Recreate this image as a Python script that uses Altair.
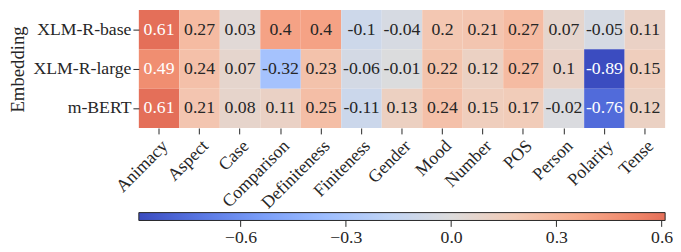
import altair as alt
import pandas as pd
import numpy as np

features = ["Animacy", "Aspect", "Case", "Comparison", "Definiteness", "Finiteness",
            "Gender", "Mood", "Number", "POS", "Person", "Polarity", "Tense"]
embeddings = ["XLM-R-base", "XLM-R-large", "m-BERT"]
xlmr_base = [0.61, 0.27, 0.03, 0.4, 0.4, -0.1, -0.04, 0.2, 0.21, 0.27, 0.07, -0.05, 0.11]
xlmr_large = [0.49, 0.24, 0.07, -0.32, 0.23, -0.06, -0.01, 0.22, 0.12, 0.27, 0.1, -0.89, 0.15]
mbert = [0.61, 0.21, 0.08, 0.11, 0.25, -0.11, 0.13, 0.24, 0.15, 0.17, -0.02, -0.76, 0.12]
cbar_ticks = [-0.6, -0.3, 0.0, 0.3, 0.6]

rows = []
for emb, vals in zip(embeddings, [xlmr_base, xlmr_large, mbert]):
    for f, v in zip(features, vals):
        rows.append({"emb": emb, "feature": f, "v": v, "label": str(v)})
df = pd.DataFrame(rows)

vmin = min(min(xlmr_base), min(xlmr_large), min(mbert))
vmax = max(max(xlmr_base), max(xlmr_large), max(mbert))
vlim = max(abs(vmin), abs(vmax))

# matplotlib coolwarm sampled at 0, 0.1, ..., 1.0
cw = ["#3b4cc0", "#5977e3", "#7b9ff9", "#9ebeff", "#c0d4f5", "#dddcdc",
      "#f2cbb7", "#f7ac8e", "#ee8468", "#d65244", "#b40426"]
cw_dom = [-vlim + 2 * vlim * i / 10 for i in range(11)]

def hex2rgb(h):
    return np.array([int(h[i:i + 2], 16) for i in (1, 3, 5)], dtype=float)

def cw_at(val):
    t = (val + vlim) / (2 * vlim) * 10
    i = min(int(np.floor(t)), 9)
    fr = t - i
    c = hex2rgb(cw[i]) * (1 - fr) + hex2rgb(cw[i + 1]) * fr
    return "#%02x%02x%02x" % tuple(int(round(x)) for x in c)

stops = []
for d, c in zip(cw_dom, cw):
    if vmin - 1e-9 <= d <= vmax + 1e-9:
        stops.append({"offset": (d - vmin) / (vmax - vmin), "color": c})
stops.append({"offset": 1.0, "color": cw_at(vmax)})

FONT = "Liberation Serif"
FS = 18
INK = "#262626"

base = alt.Chart(df).encode(
    x=alt.X("feature:N", sort=features,
            axis=alt.Axis(title=None, labelAngle=-45, labelFont=FONT, labelFontSize=FS,
                          labelColor=INK, tickColor=INK, tickSize=6,
                          domain=False, labelPadding=3)),
    y=alt.Y("emb:N", sort=embeddings,
            axis=alt.Axis(title="Embedding", titleFont=FONT, titleFontSize=FS + 1,
                          titleFontWeight="normal", titleColor=INK, titlePadding=6,
                          labelFont=FONT, labelFontSize=FS, labelColor=INK,
                          tickColor=INK, tickSize=6, domain=False, labelPadding=2)),
)
rect = base.mark_rect().encode(
    color=alt.Color("v:Q", scale=alt.Scale(domain=cw_dom, range=cw, interpolate="rgb"),
                    legend=None)
)
text = base.mark_text(font=FONT, fontSize=FS).encode(
    text="label:N",
    color=alt.condition("datum.v > 0.45 || datum.v < -0.5", alt.value("white"),
                        alt.value(INK)),
)
W = 535
heat = (rect + text).properties(width=W, height=120)

cdf = pd.DataFrame({"lo": [vmin], "hi": [vmax]})
cbar = alt.Chart(cdf).mark_rect(
    fill={"gradient": "linear", "x1": 0, "x2": 1, "y1": 0, "y2": 0, "stops": stops},
    stroke=INK, strokeWidth=1,
).encode(
    x=alt.X("lo:Q", scale=alt.Scale(domain=[vmin, vmax], nice=False, zero=False),
            axis=alt.Axis(title=None, values=cbar_ticks, format=".1f", grid=False,
                          domain=False, labelFont=FONT, labelFontSize=FS,
                          labelColor=INK, tickColor=INK, tickSize=6,
                          labelPadding=2, labelFlush=False)),
    x2="hi:Q",
).properties(width=W, height=8)

chart = alt.vconcat(heat, cbar, spacing=86, bounds="flush").properties(
    padding=0
).configure(font=FONT).configure_view(stroke=None).configure_text(font=FONT)

chart.save("out.html", embed_options={"renderer": "svg", "actions": False})
